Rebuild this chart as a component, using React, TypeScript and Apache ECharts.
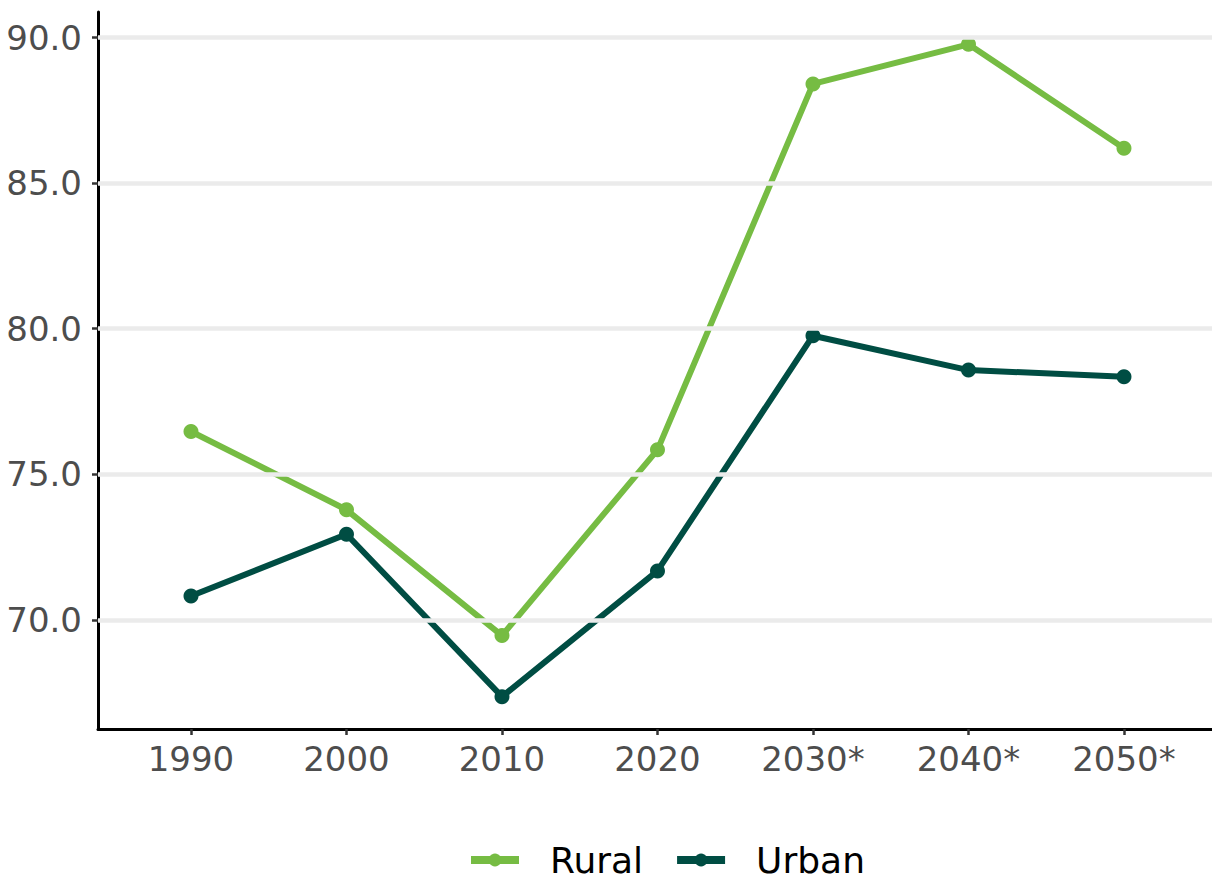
import React, { useEffect, useRef } from "react";
import * as echarts from "echarts";

const categories = ["1990", "2000", "2010", "2020", "2030*", "2040*", "2050*"];
const rural = [76.47, 73.78, 69.46, 75.84, 88.41, 89.77, 86.2];
const urban = [70.82, 72.94, 67.36, 71.68, 79.76, 78.58, 78.35];
const yTicks = [70, 75, 80, 85, 90];

const RURAL_COLOR = "#76BC43";
const URBAN_COLOR = "#004D43";
const FONT = "DejaVu Sans";

export default function App() {
  const ref = useRef<HTMLDivElement>(null);
  useEffect(() => {
    document.body.style.margin = "0";
    const chart = echarts.init(ref.current!, null, { renderer: "svg" });
    const xIdx = categories.map((_, i) => i);
    chart.setOption({
      animation: false,
      backgroundColor: "#ffffff",
      textStyle: { fontFamily: FONT },
      grid: { left: 98, top: 12, right: 0, height: 717, containLabel: false },
      xAxis: {
        type: "value",
        min: -0.598,
        max: 6.566,
        axisLine: { show: true, onZero: false, lineStyle: { color: "#000", width: 3 } },
        axisTick: { show: true, length: 6, lineStyle: { color: "#333", width: 2.5 }, customValues: xIdx },
        axisLabel: {
          customValues: xIdx,
          formatter: (v: number) => categories[Math.round(v)] ?? "",
          color: "#4d4d4d",
          fontSize: 34,
          fontFamily: FONT,
          margin: 13,
        },
        splitLine: { show: false },
      },
      yAxis: {
        type: "value",
        min: 66.25,
        max: 90.88,
        axisLine: { show: true, onZero: false, lineStyle: { color: "#000", width: 3 } },
        axisTick: { show: true, length: 6, lineStyle: { color: "#333", width: 2.5 }, customValues: yTicks },
        axisLabel: {
          customValues: yTicks,
          formatter: (v: number) => v.toFixed(1),
          color: "#4d4d4d",
          fontSize: 34,
          fontFamily: FONT,
          margin: 16,
        },
        splitLine: { show: false },
      },
      legend: {
        top: 842,
        left: 467,
        padding: 0,
        itemWidth: 48,
        itemHeight: 16,
        itemGap: 30,
        lineStyle: { width: 8 },
        textStyle: { fontSize: 36, lineHeight: 36, color: "#000", fontFamily: FONT, padding: [0, 0, 0, 26] },
        data: ["Rural", "Urban"],
      },
      series: [
        {
          name: "grid",
          type: "line",
          data: [],
          silent: true,
          markLine: {
            silent: true,
            symbol: "none",
            label: { show: false },
            lineStyle: { color: "#ebebeb", width: 4.5, type: "solid" },
            data: yTicks.map((v) => ({ yAxis: v })),
          },
          z: 0,
        },
        {
          name: "Rural",
          type: "line",
          data: rural.map((v, i) => [i, v]),
          color: RURAL_COLOR,
          lineStyle: { width: 6, color: RURAL_COLOR },
          itemStyle: { color: RURAL_COLOR },
          symbol: "circle",
          symbolSize: 15,
          z: 3,
        },
        {
          name: "Urban",
          type: "line",
          data: urban.map((v, i) => [i, v]),
          color: URBAN_COLOR,
          lineStyle: { width: 6, color: URBAN_COLOR },
          itemStyle: { color: URBAN_COLOR },
          symbol: "circle",
          symbolSize: 15,
          z: 3,
        },
      ],
    });
    return () => chart.dispose();
  }, []);
  return <div ref={ref} style={{ width: 1212, height: 884 }} />;
}
